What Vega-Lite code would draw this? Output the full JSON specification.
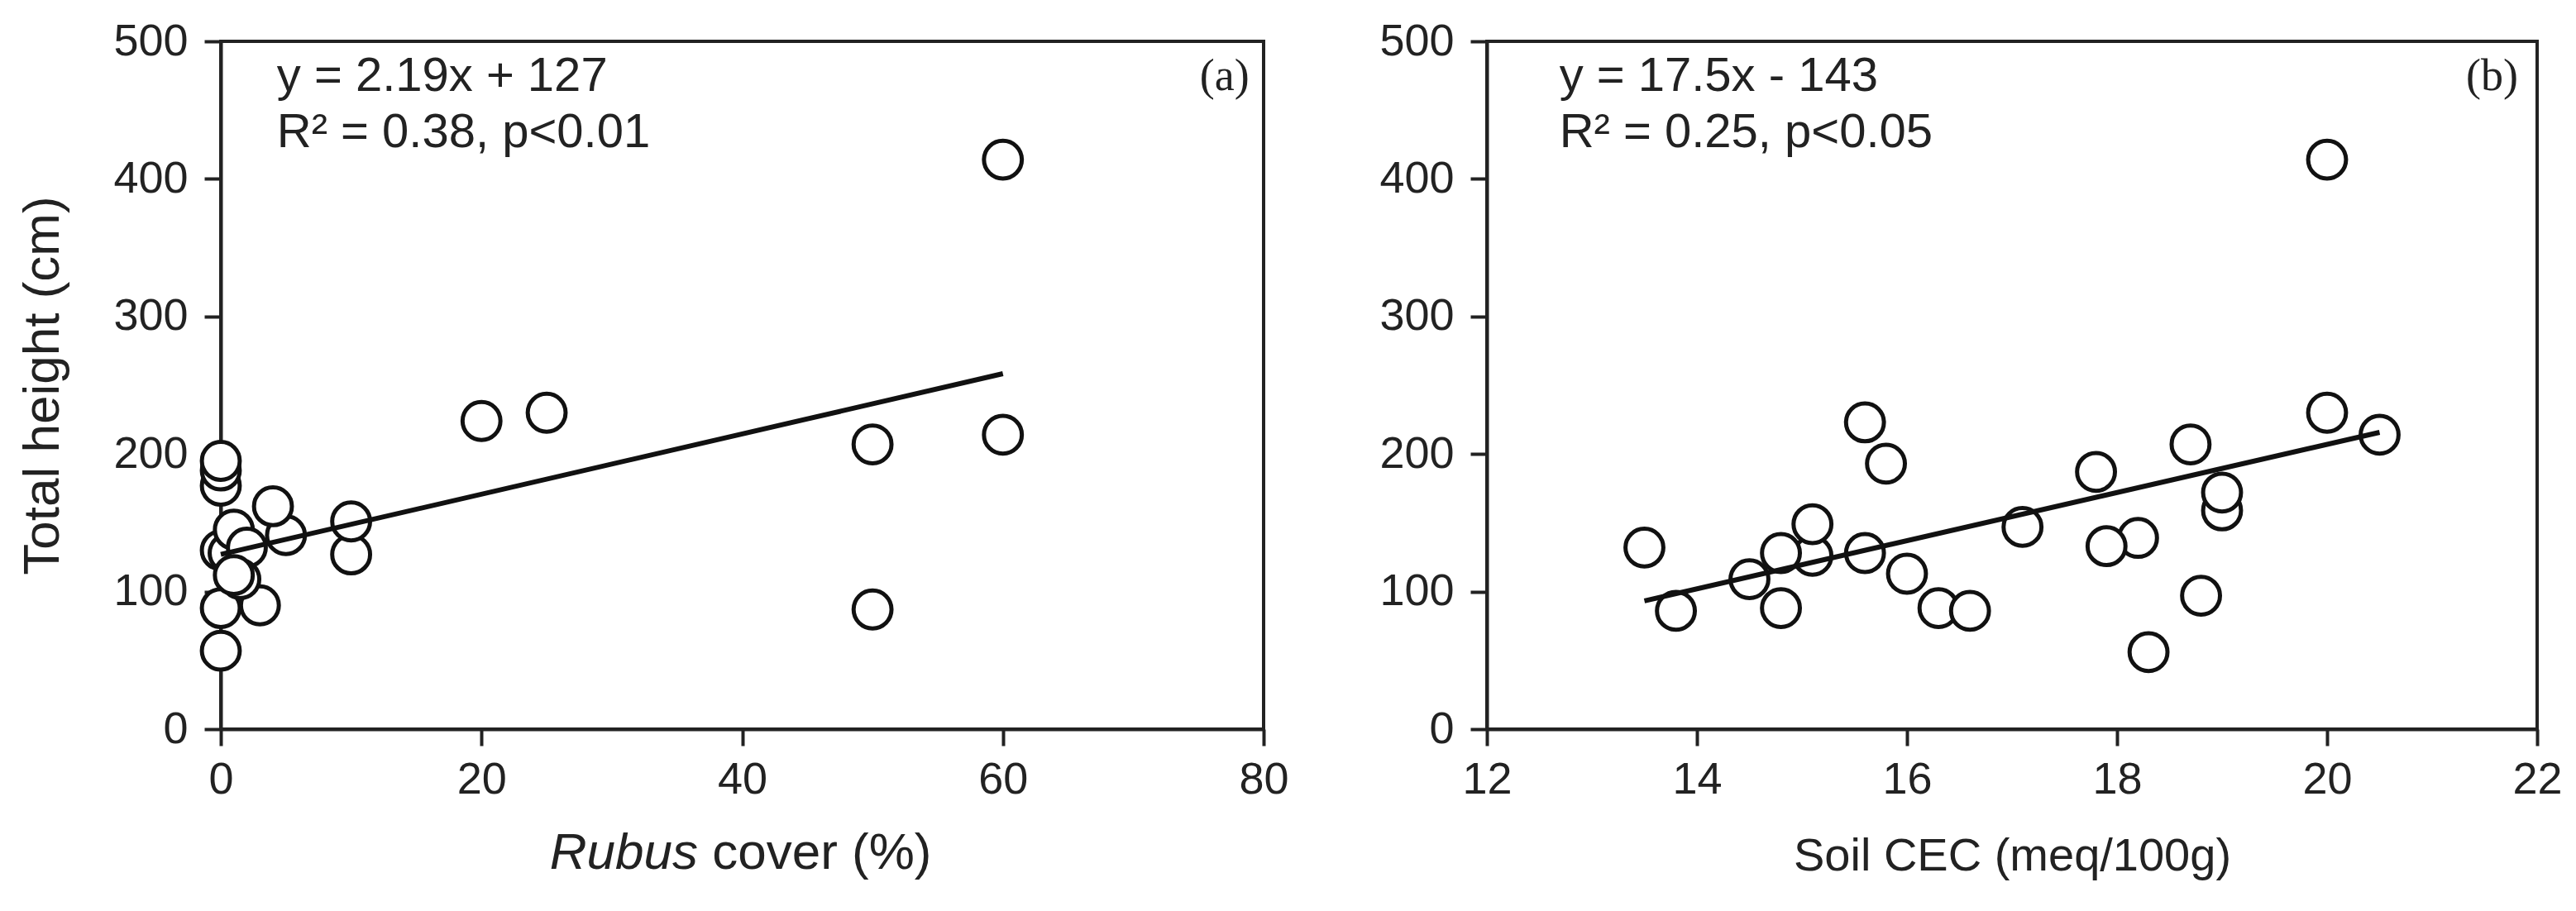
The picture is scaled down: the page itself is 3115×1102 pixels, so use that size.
{
  "$schema": "https://vega.github.io/schema/vega-lite/v6.json",
  "background": "white",
  "padding": {"left": 18, "top": 21, "right": 0, "bottom": 0},
  "bounds": "flush",
  "spacing": 270,
  "datasets": {
    "rubus": [
      {"cover": 0, "height": 57},
      {"cover": 3, "height": 90},
      {"cover": 0, "height": 88},
      {"cover": 0, "height": 130},
      {"cover": 0.6, "height": 128},
      {"cover": 1, "height": 145},
      {"cover": 2, "height": 132},
      {"cover": 5, "height": 141},
      {"cover": 1.5, "height": 109},
      {"cover": 1, "height": 112},
      {"cover": 4, "height": 162},
      {"cover": 0, "height": 177},
      {"cover": 0, "height": 188},
      {"cover": 0, "height": 195},
      {"cover": 10, "height": 127},
      {"cover": 10, "height": 151},
      {"cover": 20, "height": 224},
      {"cover": 25, "height": 230},
      {"cover": 50, "height": 207},
      {"cover": 50, "height": 87},
      {"cover": 60, "height": 214},
      {"cover": 60, "height": 414}
    ],
    "cec": [
      {"cec": 20.0, "height": 414},
      {"cec": 20.0, "height": 230},
      {"cec": 20.5, "height": 214},
      {"cec": 15.6, "height": 223},
      {"cec": 15.8, "height": 193},
      {"cec": 18.7, "height": 207},
      {"cec": 17.8, "height": 187},
      {"cec": 19.0, "height": 159},
      {"cec": 19.0, "height": 172},
      {"cec": 17.1, "height": 147},
      {"cec": 18.2, "height": 139},
      {"cec": 17.9, "height": 133},
      {"cec": 18.8, "height": 97},
      {"cec": 18.3, "height": 56},
      {"cec": 13.5, "height": 132},
      {"cec": 13.8, "height": 86},
      {"cec": 14.5, "height": 109},
      {"cec": 14.8, "height": 88},
      {"cec": 15.1, "height": 126},
      {"cec": 14.8, "height": 128},
      {"cec": 15.1, "height": 149},
      {"cec": 15.6, "height": 128},
      {"cec": 16.0, "height": 113},
      {"cec": 16.3, "height": 88},
      {"cec": 16.6, "height": 86}
    ],
    "fit_a": [
      {"cover": 0, "height": 127},
      {"cover": 60, "height": 258.4}
    ],
    "fit_b": [
      {"cec": 13.5, "height": 93.25},
      {"cec": 20.5, "height": 215.75}
    ],
    "one": [{}]
  },
  "hconcat": [
    {
      "width": 1261,
      "height": 832,
      "layer": [
        {
          "data": {"name": "rubus"},
          "mark": {"type": "circle", "fill": "white", "stroke": "#111", "strokeWidth": 5, "size": 2100, "opacity": 1, "fillOpacity": 1},
          "encoding": {
            "x": {"field": "cover", "type": "quantitative", "scale": {"domain": [0, 80]}, "axis": {"values": [0, 20, 40, 60, 80], "title": null}},
            "y": {"field": "height", "type": "quantitative", "scale": {"domain": [0, 500]}, "axis": {"values": [0, 100, 200, 300, 400, 500], "title": "Total height (cm)"}}
          }
        },
        {
          "data": {"name": "fit_a"},
          "mark": {"type": "line", "color": "#111", "strokeWidth": 6},
          "encoding": {
            "x": {"field": "cover", "type": "quantitative", "scale": {"domain": [0, 80]}},
            "y": {"field": "height", "type": "quantitative", "scale": {"domain": [0, 500]}}
          }
        },
        {
          "data": {"name": "one"},
          "mark": {"type": "text", "align": "left", "baseline": "alphabetic", "fontSize": 58, "font": "Liberation Sans", "color": "#222"},
          "encoding": {"x": {"datum": 4.3, "type": "quantitative"}, "y": {"datum": 464, "type": "quantitative"}, "text": {"value": "y = 2.19x + 127"}}
        },
        {
          "data": {"name": "one"},
          "mark": {"type": "text", "align": "left", "baseline": "alphabetic", "fontSize": 58, "font": "Liberation Sans", "color": "#222"},
          "encoding": {"x": {"datum": 4.3, "type": "quantitative"}, "y": {"datum": 423, "type": "quantitative"}, "text": {"value": "R² = 0.38, p<0.01"}}
        },
        {
          "data": {"name": "one"},
          "mark": {"type": "text", "align": "center", "baseline": "middle", "fontSize": 54, "font": "Liberation Serif", "color": "#222"},
          "encoding": {"x": {"datum": 77.0, "type": "quantitative"}, "y": {"datum": 474, "type": "quantitative"}, "text": {"value": "(a)"}}
        },
        {
          "data": {"name": "one"},
          "mark": {"type": "text", "align": "right", "baseline": "alphabetic", "fontSize": 62, "font": "Liberation Sans", "fontStyle": "italic", "color": "#222"},
          "encoding": {"x": {"datum": 36.6, "type": "quantitative"}, "y": {"datum": -101.6, "type": "quantitative"}, "text": {"value": "Rubus"}}
        },
        {
          "data": {"name": "one"},
          "mark": {"type": "text", "align": "left", "baseline": "alphabetic", "fontSize": 62, "font": "Liberation Sans", "color": "#222"},
          "encoding": {"x": {"datum": 37.7, "type": "quantitative"}, "y": {"datum": -101.6, "type": "quantitative"}, "text": {"value": "cover (%)"}}
        }
      ]
    },
    {
      "width": 1270,
      "height": 832,
      "layer": [
        {
          "data": {"name": "cec"},
          "mark": {"type": "circle", "fill": "white", "stroke": "#111", "strokeWidth": 5, "size": 2100, "opacity": 1, "fillOpacity": 1},
          "encoding": {
            "x": {"field": "cec", "type": "quantitative", "scale": {"domain": [12, 22], "zero": false}, "axis": {"values": [12, 14, 16, 18, 20, 22], "format": "d", "title": "Soil CEC (meq/100g)", "titleFontSize": 56, "titlePadding": 38}},
            "y": {"field": "height", "type": "quantitative", "scale": {"domain": [0, 500]}, "axis": {"values": [0, 100, 200, 300, 400, 500], "title": null}}
          }
        },
        {
          "data": {"name": "fit_b"},
          "mark": {"type": "line", "color": "#111", "strokeWidth": 6},
          "encoding": {
            "x": {"field": "cec", "type": "quantitative", "scale": {"domain": [12, 22], "zero": false}},
            "y": {"field": "height", "type": "quantitative", "scale": {"domain": [0, 500]}}
          }
        },
        {
          "data": {"name": "one"},
          "mark": {"type": "text", "align": "left", "baseline": "alphabetic", "fontSize": 58, "font": "Liberation Sans", "color": "#222"},
          "encoding": {"x": {"datum": 12.69, "type": "quantitative"}, "y": {"datum": 464, "type": "quantitative"}, "text": {"value": "y = 17.5x - 143"}}
        },
        {
          "data": {"name": "one"},
          "mark": {"type": "text", "align": "left", "baseline": "alphabetic", "fontSize": 58, "font": "Liberation Sans", "color": "#222"},
          "encoding": {"x": {"datum": 12.69, "type": "quantitative"}, "y": {"datum": 423, "type": "quantitative"}, "text": {"value": "R² = 0.25, p<0.05"}}
        },
        {
          "data": {"name": "one"},
          "mark": {"type": "text", "align": "center", "baseline": "middle", "fontSize": 54, "font": "Liberation Serif", "color": "#222"},
          "encoding": {"x": {"datum": 21.57, "type": "quantitative"}, "y": {"datum": 474, "type": "quantitative"}, "text": {"value": "(b)"}}
        }
      ]
    }
  ],
  "config": {
    "view": {"stroke": "#222", "strokeWidth": 4},
    "axis": {
      "domainColor": "#222", "domainWidth": 4,
      "tickColor": "#222", "tickWidth": 4, "tickSize": 20,
      "labelFont": "Liberation Sans", "labelFontSize": 54, "labelColor": "#222",
      "titleFont": "Liberation Sans", "titleFontSize": 62, "titleFontWeight": "normal", "titleColor": "#222",
      "grid": false, "labelFlush": false, "labelOverlap": false
    },
    "axisX": {"labelPadding": 14, "titlePadding": 32},
    "axisY": {"labelPadding": 20, "titlePadding": 53}
  }
}
